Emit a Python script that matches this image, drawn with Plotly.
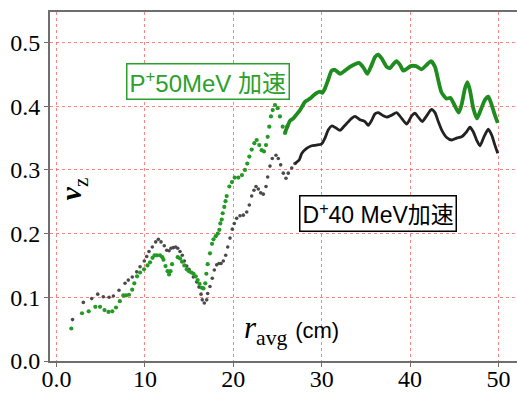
import plotly.graph_objects as go

# P+ 50 MeV acceleration (green)
p_r = [1.67, 2.88, 3.64, 4.39, 4.92, 5.43, 5.88, 6.31, 6.73, 7.16, 7.56, 7.86, 8.20, 8.56, 8.80,
       9.11, 9.45, 9.90, 10.29, 10.58, 10.86, 11.09, 11.37, 11.71, 11.97, 12.10, 12.33, 12.56,
       12.73, 12.90, 13.07, 13.71, 13.97, 14.20, 14.46, 14.73, 14.99, 15.27, 15.50, 15.75, 15.97,
       16.18, 16.44, 16.63, 16.83, 16.95, 17.10, 17.36, 17.59, 17.76, 18.01, 18.24, 18.42, 18.53,
       18.69, 18.80, 18.98, 19.12, 19.25, 19.55, 19.85, 20.16, 20.57, 20.98, 21.32, 21.58, 21.81,
       22.08, 22.38, 22.65, 22.94, 23.21, 23.47, 23.70, 23.89, 24.07, 24.26, 24.46, 24.72, 25.02,
       25.28, 25.59, 25.85, 26.11, 26.41, 26.79, 27.09, 27.55, 28.11, 28.68, 29.24, 29.81, 30.07,
       30.37, 30.75, 31.13, 31.50, 32.07, 32.64, 33.20, 33.77, 34.22, 34.71, 35.16, 35.66, 36.03,
       36.40, 36.79, 37.35, 37.73, 38.10, 38.46, 38.86, 39.23, 39.65, 40.07, 40.67, 41.29, 41.95,
       42.36, 42.82, 43.19, 43.55, 44.12, 44.57, 45.02, 45.50, 45.84, 46.21, 46.49, 46.78, 47.15,
       47.57, 47.99, 48.47, 48.85, 49.21, 49.60, 49.92]
p_nu = [0.051, 0.075, 0.078, 0.085, 0.085, 0.080, 0.077, 0.078, 0.084, 0.094, 0.103, 0.103, 0.104,
        0.112, 0.122, 0.133, 0.139, 0.144, 0.150, 0.155, 0.162, 0.166, 0.166, 0.166, 0.163, 0.159,
        0.149, 0.141, 0.136, 0.141, 0.152, 0.163, 0.161, 0.156, 0.150, 0.144, 0.141, 0.139, 0.137,
        0.133, 0.127, 0.121, 0.115, 0.114, 0.122, 0.137, 0.152, 0.169, 0.184, 0.191, 0.196, 0.200,
        0.206, 0.216, 0.222, 0.232, 0.242, 0.251, 0.259, 0.274, 0.281, 0.288, 0.288, 0.292, 0.300,
        0.310, 0.321, 0.332, 0.342, 0.347, 0.339, 0.331, 0.329, 0.339, 0.352, 0.368, 0.384, 0.394,
        0.402, 0.397, 0.384, 0.368, 0.358, 0.368, 0.377, 0.381, 0.386, 0.394, 0.407, 0.412, 0.419,
        0.423, 0.421, 0.428, 0.442, 0.456, 0.457, 0.451, 0.456, 0.462, 0.466, 0.468, 0.461, 0.451,
        0.465, 0.477, 0.481, 0.475, 0.462, 0.460, 0.466, 0.471, 0.465, 0.456, 0.459, 0.463, 0.463,
        0.458, 0.466, 0.471, 0.462, 0.441, 0.422, 0.412, 0.413, 0.402, 0.390, 0.403, 0.428, 0.438,
        0.425, 0.397, 0.381, 0.394, 0.410, 0.415, 0.403, 0.386, 0.374]

# D+ 40 MeV acceleration (black)
d_r = [1.81, 3.03, 3.98, 4.66, 5.29, 5.94, 6.43, 7.07, 7.75, 8.12, 8.57, 9.07, 9.45, 9.93, 10.20,
       10.46, 10.84, 11.22, 11.52, 11.82, 12.19, 12.47, 12.73, 12.95, 13.21, 13.48, 13.71, 13.97,
       14.23, 14.46, 14.73, 14.99, 15.21, 15.48, 15.86, 16.12, 16.35, 16.49, 16.72, 16.99, 17.10,
       17.36, 17.62, 17.85, 18.12, 18.38, 18.61, 18.87, 19.14, 19.37, 19.63, 19.89, 20.11, 20.38,
       20.76, 21.13, 21.52, 21.81, 22.08, 22.34, 22.57, 22.83, 23.10, 23.39, 23.70, 23.89, 24.15,
       24.41, 24.83, 25.09, 25.36, 25.66, 25.96, 26.22, 26.61, 26.98, 27.47, 27.74, 28.30, 28.87,
       29.43, 30.00, 30.37, 30.75, 31.13, 31.50, 32.07, 32.44, 32.83, 33.39, 33.77, 34.33, 34.90,
       35.27, 35.66, 36.03, 36.40, 36.97, 37.35, 37.92, 38.48, 39.05, 39.62, 40.18, 40.55, 40.93,
       41.38, 41.88, 42.42, 42.82, 43.19, 43.57, 44.14, 44.71, 45.27, 45.84, 46.40, 46.78, 47.15,
       47.53, 47.91, 48.36, 48.85, 49.23, 49.60, 49.92]
d_nu = [0.065, 0.092, 0.098, 0.105, 0.101, 0.100, 0.102, 0.111, 0.122, 0.127, 0.132, 0.140, 0.148,
        0.157, 0.164, 0.172, 0.179, 0.187, 0.191, 0.187, 0.181, 0.174, 0.173, 0.177, 0.178, 0.179,
        0.177, 0.172, 0.166, 0.157, 0.149, 0.144, 0.139, 0.132, 0.124, 0.116, 0.105, 0.096, 0.091,
        0.096, 0.106, 0.117, 0.130, 0.143, 0.151, 0.153, 0.153, 0.157, 0.166, 0.179, 0.193, 0.207,
        0.216, 0.224, 0.228, 0.229, 0.234, 0.245, 0.259, 0.268, 0.274, 0.270, 0.264, 0.262, 0.274,
        0.289, 0.306, 0.318, 0.323, 0.318, 0.308, 0.295, 0.287, 0.295, 0.303, 0.310, 0.316, 0.326,
        0.334, 0.338, 0.339, 0.341, 0.350, 0.363, 0.369, 0.367, 0.362, 0.367, 0.373, 0.381, 0.384,
        0.379, 0.376, 0.370, 0.378, 0.388, 0.390, 0.385, 0.383, 0.386, 0.390, 0.381, 0.372, 0.385,
        0.389, 0.383, 0.376, 0.385, 0.395, 0.390, 0.376, 0.363, 0.351, 0.347, 0.350, 0.352, 0.360,
        0.367, 0.360, 0.347, 0.338, 0.352, 0.364, 0.355, 0.339, 0.326]

x_ticks = [0, 10, 20, 30, 40, 50]
x_ticktext = ["0.0", "10", "20", "30", "40", "50"]
y_ticks = [0.0, 0.1, 0.2, 0.3, 0.4, 0.5]
y_ticktext = ["0.0", "0.1", "0.2", "0.3", "0.4", "0.5"]

P_SPLIT = 26.4   # beyond this the points are so dense they form a line
D_SPLIT = 27.4

GREEN = "#1e8c1e"
DARK = "#222222"

fig = go.Figure()

def add_series(r, nu, split, color, dotcolor, msize, lwidth):
    lo = [i for i, v in enumerate(r) if v <= split]
    hi = [i for i, v in enumerate(r) if v >= split - 0.6]
    fig.add_trace(go.Scatter(x=[r[i] for i in lo], y=[nu[i] for i in lo], mode="markers",
                             marker=dict(size=msize, color=dotcolor, line=dict(width=0)),
                             hoverinfo="skip"))
    fig.add_trace(go.Scatter(x=[r[i] for i in hi], y=[nu[i] for i in hi], mode="lines",
                             line=dict(color=color, width=lwidth, shape="spline", smoothing=0.6),
                             hoverinfo="skip"))

add_series(d_r, d_nu, D_SPLIT, DARK, "#4a4a4a", 3.6, 2.8)
add_series(p_r, p_nu, P_SPLIT, GREEN, "#239a23", 4.2, 3.8)

SERIF = "Liberation Serif"
SANS = "Liberation Sans, Noto Sans CJK JP"

common = dict(showgrid=True, gridcolor="rgba(255,90,90,0.75)", gridwidth=1.2, griddash="dot",
              zeroline=False, showline=True, linecolor="#6e6e6e", linewidth=2,
              ticks="outside", ticklen=4, tickcolor="#6e6e6e", automargin=False,
              tickfont=dict(family=SERIF, size=24, color="black"))

fig.update_layout(
    width=517, height=393,
    margin=dict(l=50, r=0, t=12, b=32),
    plot_bgcolor="white", paper_bgcolor="white",
    showlegend=False,
    xaxis=dict(range=[-0.74, 52.1], tickvals=x_ticks, ticktext=x_ticktext, mirror=True,
               ticklabelstandoff=-9, **common),
    yaxis=dict(range=[0, 0.548], tickvals=y_ticks, ticktext=y_ticktext,
               ticklabelstandoff=-1, **common),
)

fig.add_annotation(x=1.9, y=0.27, xref="x", yref="y", showarrow=False, textangle=-90,
                   text="<b><i>ν</i></b><sub>z</sub>",
                   font=dict(family=SERIF, size=30, color="black"))

fig.add_annotation(x=26.6, y=0.048, xref="x", yref="y", showarrow=False,
                   text="<i>r</i><sub>avg</sub>"
                        " <span style='font-family:Liberation Sans;font-size:22px'>(cm)</span>",
                   font=dict(family=SERIF, size=31, color="black"))

fig.add_annotation(x=(207.5 - 56.5) / 8.84, y=(361 - 81.5) / 637, xref="x", yref="y",
                   showarrow=False, text="P<sup>+</sup>50MeV 加速",
                   font=dict(family=SANS, size=24, color="#2ca02c"),
                   bgcolor="white", bordercolor="#2ca02c", borderwidth=1.5, borderpad=2)

fig.add_annotation(x=(378 - 56.5) / 8.84, y=(361 - 213) / 637, xref="x", yref="y",
                   showarrow=False, text="D<sup>+</sup>40 MeV加速",
                   font=dict(family=SANS, size=23, color="black"),
                   bgcolor="white", bordercolor="black", borderwidth=1.5, borderpad=2)

fig.write_html("out.html")
